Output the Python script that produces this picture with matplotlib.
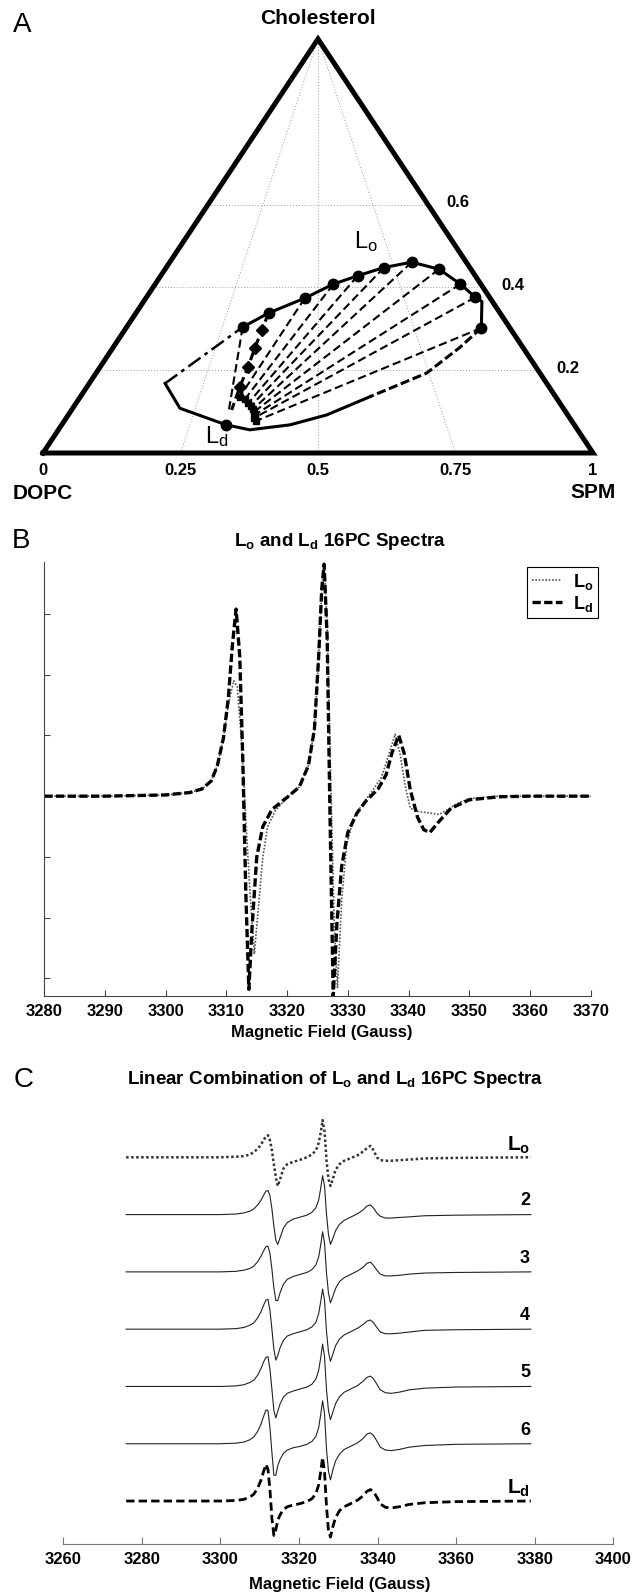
import numpy as np
import matplotlib
matplotlib.use("Agg")
from matplotlib import pyplot as plt

plt.rcParams['font.family'] = ['Liberation Sans', 'DejaVu Sans']

# ---------------- panel A : DOPC / SPM / cholesterol phase diagram
# compositions given as (SPM fraction, cholesterol fraction)
lo_spm = [0.211, 0.241, 0.289, 0.324, 0.358, 0.396, 0.440, 0.498, 0.555, 0.598, 0.646]
lo_chol = [0.304, 0.338, 0.374, 0.408, 0.428, 0.448, 0.461, 0.444, 0.408, 0.376, 0.302]
# Ld ends of the tie lines
tie_spm = [0.289, 0.291, 0.290, 0.302, 0.313, 0.321, 0.329, 0.334, 0.339, 0.342, 0.348]
tie_chol = [0.096, 0.104, 0.136, 0.130, 0.121, 0.113, 0.106, 0.099, 0.092, 0.085, 0.077]
# samples along the second tie line
dia_spm = [0.2495, 0.2585, 0.269, 0.278]
dia_chol = [0.297, 0.253, 0.208, 0.160]
ld_spm, ld_chol = 0.299, 0.068

# rest of the phase boundary
top_extra_spm, top_extra_chol = 0.615, 0.366
right_spm = [0.646, 0.630, 0.601, 0.5265]
right_chol = [0.302, 0.254, 0.193, 0.136]
low_spm = [0.5265, 0.470, 0.415, 0.348, 0.299, 0.195, 0.138]
low_chol = [0.136, 0.092, 0.068, 0.056, 0.068, 0.108, 0.168]
left_spm = [0.138, 0.211]
left_chol = [0.168, 0.304]

bottom_ticks = [0, 0.25, 0.5, 0.75, 1]
side_ticks = [0.2, 0.4, 0.6]

# ---------------- panel B : Lo and Ld spectra
lo_field = [3280, 3290, 3300, 3304, 3306, 3307.5, 3308.5, 3309.5, 3310.3, 3311.2, 3311.8,
            3312.5, 3313.2, 3313.9, 3314.6, 3315.3, 3316, 3316.8, 3318, 3320, 3322, 3323.5,
            3324.5, 3325.2, 3325.7, 3326.1, 3326.6, 3327.2, 3327.8, 3328.3, 3329, 3329.8,
            3331, 3332.5, 3334, 3335.5, 3336.5, 3337.8, 3338.6, 3339.5, 3340.3, 3341.5,
            3343, 3345, 3346.5, 3348, 3350, 3355, 3360, 3370]
lo_int = [0, 0, 0.02, 0.06, 0.12, 0.25, 0.5, 0.95, 1.5, 1.9, 1.8,
          0.9, -0.4, -1.6, -2.6, -1.8, -1.0, -0.5, -0.25, -0.02, 0.15, 0.5,
          1.1, 2.3, 3.4, 3.8, 2.8, 0.2, -2.2, -3.15, -1.7, -0.8,
          -0.35, -0.12, 0.08, 0.3, 0.6, 1.02, 0.7, 0.15, -0.2, -0.25,
          -0.27, -0.3, -0.22, -0.12, -0.04, 0, 0, 0]
ld_field = [3280, 3290, 3300, 3304, 3306, 3307.5, 3308.5, 3309.5, 3310.3, 3311, 3311.6,
            3312.2, 3312.7, 3313.2, 3313.7, 3314.2, 3315, 3316, 3317.5, 3320, 3322, 3323.5,
            3324.5, 3325.2, 3325.7, 3326.1, 3326.6, 3327.1, 3327.6, 3328.2, 3329, 3330,
            3331.5, 3333, 3335, 3336.3, 3337.3, 3338.4, 3339.3, 3340.3, 3341.5, 3342.5,
            3343.5, 3345, 3347, 3350, 3355, 3360, 3370]
ld_int = [0, 0, 0.02, 0.06, 0.12, 0.25, 0.5, 0.95, 1.6, 2.5, 3.08,
          2.3, 0.6, -1.6, -3.18, -2.2, -1.0, -0.5, -0.22, -0.02, 0.15, 0.5,
          1.1, 2.3, 3.4, 3.82, 2.6, -0.5, -3.3, -2.1, -1.15, -0.6,
          -0.28, -0.08, 0.12, 0.35, 0.72, 1.0, 0.7, 0.1, -0.35, -0.55,
          -0.6, -0.42, -0.2, -0.06, -0.01, 0, 0]

# ---------------- panel C : linear combinations (each trace relative to its own baseline)
c_field = [3276, 3300, 3304, 3306, 3307.5, 3308.5, 3309.5, 3310.3, 3311, 3311.6,
           3312.1, 3312.6, 3313.1, 3313.6, 3314.1, 3314.6, 3315.2, 3316, 3317, 3318.5,
           3320, 3322, 3323.3, 3324.3, 3325, 3325.5, 3326, 3326.5, 3327, 3327.5,
           3328, 3328.6, 3329.3, 3330.3, 3331.5, 3333, 3335, 3336.3, 3337.3, 3338.2,
           3339, 3339.8, 3340.7, 3342, 3343.5, 3345.5, 3348, 3352, 3360, 3379]
c_lo = [0, 0, 0.01, 0.02, 0.05, 0.09, 0.15, 0.22, 0.3, 0.37,
        0.385, 0.3, 0.12, -0.12, -0.35, -0.5, -0.38, -0.2, -0.12, -0.08,
        -0.05, 0.0, 0.05, 0.12, 0.25, 0.42, 0.65, 0.45, -0.05, -0.38,
        -0.5, -0.38, -0.22, -0.12, -0.06, -0.02, 0.04, 0.1, 0.16, 0.2,
        0.12, 0.0, -0.05, -0.06, -0.06, -0.05, -0.04, -0.02, -0.01, 0]
c_2 = [0, 0, 0.01, 0.03, 0.06, 0.1, 0.17, 0.25, 0.34, 0.41,
       0.42, 0.33, 0.1, -0.2, -0.45, -0.52, -0.4, -0.24, -0.14, -0.08,
       -0.05, -0.01, 0.04, 0.12, 0.25, 0.45, 0.68, 0.5, 0.0, -0.35,
       -0.52, -0.42, -0.28, -0.17, -0.1, -0.05, 0.02, 0.08, 0.15, 0.17,
       0.11, 0.03, -0.03, -0.06, -0.06, -0.05, -0.04, -0.02, -0.01, 0]
c_3 = [0, 0, 0.01, 0.03, 0.06, 0.1, 0.18, 0.27, 0.37, 0.44,
       0.45, 0.32, 0.05, -0.28, -0.5, -0.5, -0.36, -0.22, -0.13, -0.08,
       -0.05, -0.01, 0.04, 0.12, 0.26, 0.46, 0.70, 0.5, -0.02, -0.37,
       -0.54, -0.43, -0.29, -0.17, -0.1, -0.05, 0.02, 0.08, 0.15, 0.17,
       0.11, 0.03, -0.04, -0.07, -0.07, -0.06, -0.04, -0.02, -0.01, 0]
c_4 = [0, 0, 0.01, 0.03, 0.07, 0.11, 0.2, 0.3, 0.42, 0.51,
       0.52, 0.33, 0.0, -0.35, -0.54, -0.46, -0.32, -0.2, -0.12, -0.08,
       -0.05, -0.01, 0.04, 0.12, 0.27, 0.47, 0.70, 0.5, -0.04, -0.4,
       -0.56, -0.44, -0.29, -0.17, -0.1, -0.05, 0.02, 0.08, 0.14, 0.16,
       0.11, 0.03, -0.05, -0.08, -0.08, -0.07, -0.05, -0.02, -0.01, 0]
c_5 = [0, 0, 0.01, 0.03, 0.07, 0.11, 0.2, 0.31, 0.43, 0.51,
       0.52, 0.3, -0.05, -0.42, -0.55, -0.43, -0.3, -0.19, -0.12, -0.08,
       -0.05, -0.01, 0.04, 0.13, 0.28, 0.49, 0.74, 0.52, -0.06, -0.42,
       -0.58, -0.45, -0.3, -0.18, -0.1, -0.05, 0.02, 0.09, 0.16, 0.18,
       0.13, 0.04, -0.06, -0.11, -0.12, -0.1, -0.06, -0.03, -0.01, 0]
c_6 = [0, 0, 0.01, 0.03, 0.07, 0.12, 0.22, 0.34, 0.48, 0.59,
       0.58, 0.28, -0.15, -0.55, -0.55, -0.38, -0.27, -0.17, -0.11, -0.07,
       -0.05, -0.01, 0.04, 0.13, 0.28, 0.5, 0.75, 0.52, -0.1, -0.48,
       -0.63, -0.46, -0.3, -0.18, -0.1, -0.05, 0.02, 0.09, 0.17, 0.19,
       0.14, 0.05, -0.06, -0.11, -0.12, -0.1, -0.06, -0.03, -0.01, 0]
c_ld = [0, 0, 0.01, 0.03, 0.07, 0.12, 0.23, 0.36, 0.52, 0.64,
        0.55, 0.2, -0.3, -0.6, -0.5, -0.33, -0.24, -0.15, -0.1, -0.07,
        -0.05, -0.01, 0.04, 0.13, 0.28, 0.5, 0.76, 0.5, -0.1, -0.52,
        -0.63, -0.45, -0.29, -0.17, -0.1, -0.05, 0.02, 0.09, 0.17, 0.2,
        0.16, 0.07, -0.05, -0.11, -0.12, -0.1, -0.06, -0.03, -0.01, 0]
c_labels = [r'$\mathregular{L_o}$', '2', '3', '4', '5', '6', r'$\mathregular{L_d}$']


def tern(spm, chol):
    spm = np.asarray(spm, dtype=float)
    chol = np.asarray(chol, dtype=float)
    return spm + chol / 2, chol


def box(x0, y0, x1, y1):
    # pixel box -> figure fraction
    return [x0 / 633, 1 - y1 / 1595, (x1 - x0) / 633, (y1 - y0) / 1595]


fig = plt.figure(figsize=(6.33, 15.95), dpi=100)

# ================= A
ax = fig.add_axes(box(43, 39, 593, 453))
ax.set_xlim(0, 1)
ax.set_ylim(0, 1)
ax.axis('off')

grid_kw = dict(color='#9a9a9a', lw=0.7, ls=(0, (1, 2)), zorder=1)
for c in side_ticks:
    ax.plot([c / 2, 1 - c / 2], [c, c], **grid_kw)
for b in bottom_ticks[1:-1]:
    ax.plot([b, 0.5], [0, 1], **grid_kw)
ax.plot([0, 1, 0.5, 0], [0, 0, 1, 0], color='black', lw=3.6, solid_joinstyle='miter', zorder=5, clip_on=False)

# tie lines
for i in range(len(lo_spm)):
    if i == 1:
        continue
    x, y = tern([lo_spm[i], tie_spm[i]], [lo_chol[i], tie_chol[i]])
    ax.plot(x, y, color='black', lw=1.5, ls=(0, (4, 2)), zorder=2)
x, y = tern([lo_spm[1]] + dia_spm + [tie_spm[1]], [lo_chol[1]] + dia_chol + [tie_chol[1]])
ax.plot(x, y, color='black', lw=2.2, ls=(0, (3, 1.5)), zorder=2)
x, y = tern(dia_spm, dia_chol)
ax.plot(x, y, 'D', color='black', ms=6.5, ls='none', zorder=4)
x, y = tern(tie_spm[2:], tie_chol[2:])
ax.plot(x, y, 's', color='black', ms=4.5, ls='none', zorder=4)

# phase boundary
x, y = tern(lo_spm[:10] + [top_extra_spm, lo_spm[10]], lo_chol[:10] + [top_extra_chol, lo_chol[10]])
ax.plot(x, y, color='black', lw=2.2, zorder=3)
x, y = tern(right_spm, right_chol)
ax.plot(x, y, color='black', lw=2.2, ls=(0, (3, 1.2)), zorder=3)
x, y = tern(low_spm, low_chol)
ax.plot(x, y, color='black', lw=2.2, zorder=3)
x, y = tern(left_spm, left_chol)
ax.plot(x, y, color='black', lw=1.8, ls=(0, (6, 2, 1.5, 2)), zorder=3)
x, y = tern(lo_spm, lo_chol)
ax.plot(x, y, 'o', color='black', ms=7.5, ls='none', zorder=4)
x, y = tern([ld_spm], [ld_chol])
ax.plot(x, y, 'o', color='black', ms=7.5, ls='none', zorder=4)

tk = dict(fontsize=12, fontweight='bold', ha='center', va='center')
for b in bottom_ticks:
    ax.text(b, -0.043, f'{b:g}', **tk)
for c in side_ticks:
    ax.text(1 - c / 2 + 0.055, c + 0.004, f'{c:g}', **tk)
ax.text(0, -0.099, 'DOPC', fontsize=15, fontweight='bold', ha='center', va='center')
ax.text(1, -0.095, 'SPM', fontsize=15, fontweight='bold', ha='center', va='center')
ax.text(0.5, 1.05, 'Cholesterol', fontsize=15, fontweight='bold', ha='center', va='center')
ax.text(0.565, 0.51, r'$\mathregular{L_o}$', fontsize=17, ha='left', va='center')
ax.text(0.295, 0.04, r'$\mathregular{L_d}$', fontsize=17, ha='left', va='center')

# ================= B
ax = fig.add_axes(box(44.3, 562, 590.6, 996))
ax.plot(lo_field, lo_int, color='#555555', lw=1.2, ls=(0, (1, 1)), label=r'$\mathregular{L_o}$')
ax.plot(ld_field, ld_int, color='black', lw=2.4, ls=(0, (2.5, 1)), label=r'$\mathregular{L_d}$')
ax.set_xlim(3280, 3370)
ax.set_ylim(-3.29, 3.855)
ax.set_xticks(np.arange(3280, 3371, 10))
ax.set_yticks(np.arange(-3, 4, 1))
ax.set_yticklabels([])
ax.tick_params(direction='in', length=4, color='#444444', width=0.8)
ax.tick_params(axis='x', labelsize=12, pad=6)
for lbl in ax.get_xticklabels():
    lbl.set_fontweight('bold')
for side in ['top', 'right']:
    ax.spines[side].set_visible(False)
for side in ['left', 'bottom']:
    ax.spines[side].set_color('#444444')
    ax.spines[side].set_linewidth(0.8)
leg = ax.legend(loc='upper right', bbox_to_anchor=(1.0135, 0.988), borderaxespad=0,
                prop={'weight': 'bold', 'size': 13}, handlelength=1.7, fancybox=False,
                framealpha=1, edgecolor='black', borderpad=0.25, labelspacing=0.1,
                handletextpad=0.6)
leg.get_frame().set_linewidth(0.8)

# ================= C
ax = fig.add_axes(box(63.3, 1105, 613.3, 1544))
traces = [c_lo, c_2, c_3, c_4, c_5, c_6, c_ld]
for i, vals in enumerate(traces):
    off = -i
    yv = np.array(vals) + off
    if i == 0:
        ax.plot(c_field, yv, color='#333333', lw=1.8, ls=(0, (1, 1)))
    elif i == len(traces) - 1:
        ax.plot(c_field, yv, color='black', lw=2.0, ls=(0, (3, 1.5)))
    else:
        ax.plot(c_field, yv, color='#222222', lw=0.8)
    lab = c_labels[i]
    dy = 0.03 if lab.startswith('$') else 0.09
    fs = 15 if lab.startswith('$') else 13
    ax.text(3378.8, off + dy, lab, fontsize=fs, fontweight='bold', ha='right', va='bottom')
ax.set_xlim(3260, 3400)
ax.set_ylim(-6.75, 0.913)
ax.set_xticks(np.arange(3260, 3401, 20))
ax.set_yticks([])
ax.tick_params(axis='x', direction='in', length=5, color='#777777', width=0.8, labelsize=12, pad=6)
for lbl in ax.get_xticklabels():
    lbl.set_fontweight('bold')
for side in ['top', 'right', 'left']:
    ax.spines[side].set_visible(False)
ax.spines['bottom'].set_color('#777777')
ax.spines['bottom'].set_linewidth(0.8)


# ---------------- figure texts
def ftext(x, y, s, **kw):
    fig.text(x / 633, 1 - y / 1595, s, ha='center', va='center', **kw)


ftext(22, 25, 'A', fontsize=20)
ftext(21, 541, 'B', fontsize=20)
ftext(24, 1080, 'C', fontsize=20)
ftext(340, 541, r'$\mathregular{L_o}$ and $\mathregular{L_d}$ 16PC Spectra', fontsize=13.5, fontweight='bold')
ftext(322, 1032, 'Magnetic Field (Gauss)', fontsize=12, fontweight='bold')
ftext(335, 1080, r'Linear Combination of $\mathregular{L_o}$ and $\mathregular{L_d}$ 16PC Spectra',
      fontsize=13.5, fontweight='bold')
ftext(340, 1585, 'Magnetic Field (Gauss)', fontsize=12, fontweight='bold')

fig.savefig('out.png', dpi=100)
